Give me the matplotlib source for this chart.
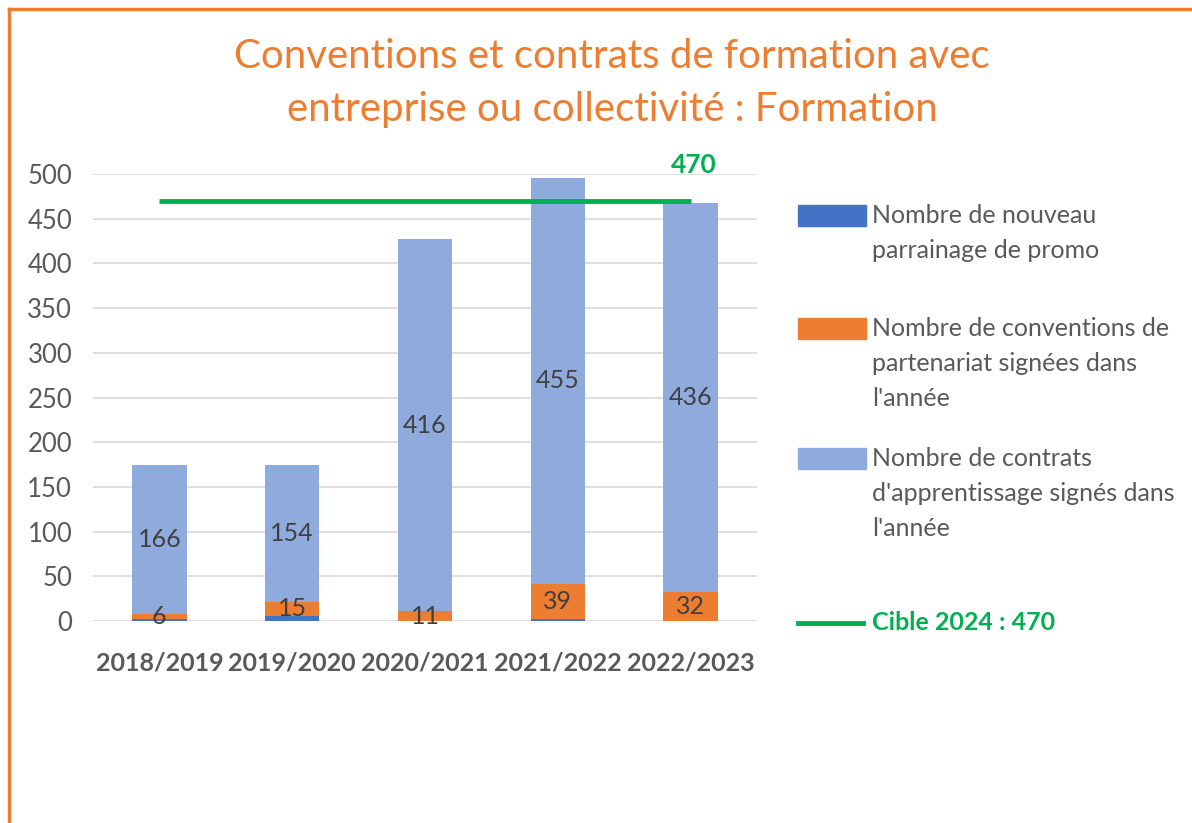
import numpy as np
import matplotlib.pyplot as plt
from matplotlib.patches import Rectangle
from matplotlib.lines import Line2D

# Data
years = ["2018/2019", "2019/2020", "2020/2021", "2021/2022", "2022/2023"]
parrainage = [2, 6, 0, 2, 0]
conventions = [6, 15, 11, 39, 32]
contrats = [166, 154, 416, 455, 436]
cible = 470

series_labels = ["Nombre de nouveau\nparrainage de promo",
                 "Nombre de conventions de\npartenariat signées dans\nl'année",
                 "Nombre de contrats\nd'apprentissage signés dans\nl'année"]
cible_label = "Cible 2024 : 470"

# Colours
c_blue = "#4472C4"
c_orange = "#ED7D31"
c_light = "#8FAADC"
c_green = "#00B050"
c_text = "#595959"

plt.rcParams['font.family'] = ['Lato', 'DejaVu Sans']

fig = plt.figure(figsize=(11.92, 8.23), dpi=100)
ax = fig.add_axes([93/1192, 1 - 621/823, (757-93)/1192, (621-174)/823])

x = np.arange(len(years))
w = 0.41
b1 = np.array(parrainage)
b2 = b1 + np.array(conventions)

ax.bar(x, parrainage, w, color=c_blue, zorder=3)
bars_o = ax.bar(x, conventions, w, bottom=b1, color=c_orange, zorder=3)
bars_l = ax.bar(x, contrats, w, bottom=b2, color=c_light, zorder=3)

# Data labels at segment centres
for bars in (bars_o, bars_l):
    for r in bars:
        ax.text(r.get_x() + r.get_width()/2, r.get_y() + r.get_height()/2,
                f"{int(round(r.get_height()))}", ha="center", va="center",
                fontsize=18, color="#404040", zorder=4)

# Target line
ax.plot(x, [cible]*len(x), color=c_green, lw=3.5, zorder=4, solid_capstyle="butt")
ax.annotate(str(cible), (x[-1], cible), xytext=(2, 26), textcoords="offset points",
            ha="center", va="center", fontsize=19, fontweight="bold", color=c_green)

ax.set_xlim(-0.5, len(years) - 0.5)
ax.set_ylim(0, 500)
ax.set_yticks(range(0, 501, 50))
ax.set_xticks(x)
ax.set_xticklabels(years, fontweight="bold")
ax.tick_params(axis="y", length=0, pad=15, labelsize=18.5, labelcolor=c_text)
ax.tick_params(axis="x", length=0, pad=22, labelsize=18, labelcolor=c_text)
ax.grid(axis="y", color="#D9D9D9", lw=1.2, zorder=0)
for s in ax.spines.values():
    s.set_visible(False)

# Title
fig.text(612/1192, 1 - 57/823, "Conventions et contrats de formation avec",
         ha="center", va="center", fontsize=29, color=c_orange)
fig.text(612/1192, 1 - 110/823, "entreprise ou collectivité : Formation",
         ha="center", va="center", fontsize=29, color=c_orange)

# Legend drawn by hand to match the layout
W, H = 1192, 823
patch_tops = [205, 318, 448]
for top, col, lab in zip(patch_tops, [c_blue, c_orange, c_light], series_labels):
    fig.patches.append(Rectangle((798/W, 1 - (top+21)/H), 68/W, 21/H,
                                 transform=fig.transFigure, color=col))
    fig.text(872/W, 1 - (top - 1)/H, lab, ha="left", va="top", fontsize=18,
             color=c_text, linespacing=1.62)
fig.lines.append(Line2D([798/W, 863/W], [1 - 623/H, 1 - 623/H], transform=fig.transFigure,
                        color=c_green, lw=3.5))
fig.text(872/W, 1 - 623/H, cible_label, ha="left", va="center", fontsize=18,
         fontweight="bold", color=c_green)

# Orange frame (top and left edges visible)
fig.lines.append(Line2D([9/W, 1], [1 - 9/H, 1 - 9/H], transform=fig.transFigure,
                        color=c_orange, lw=2.5))
fig.lines.append(Line2D([9/W, 9/W], [0, 1 - 9/H], transform=fig.transFigure,
                        color=c_orange, lw=2.5))

fig.savefig("out.png", dpi=100)
